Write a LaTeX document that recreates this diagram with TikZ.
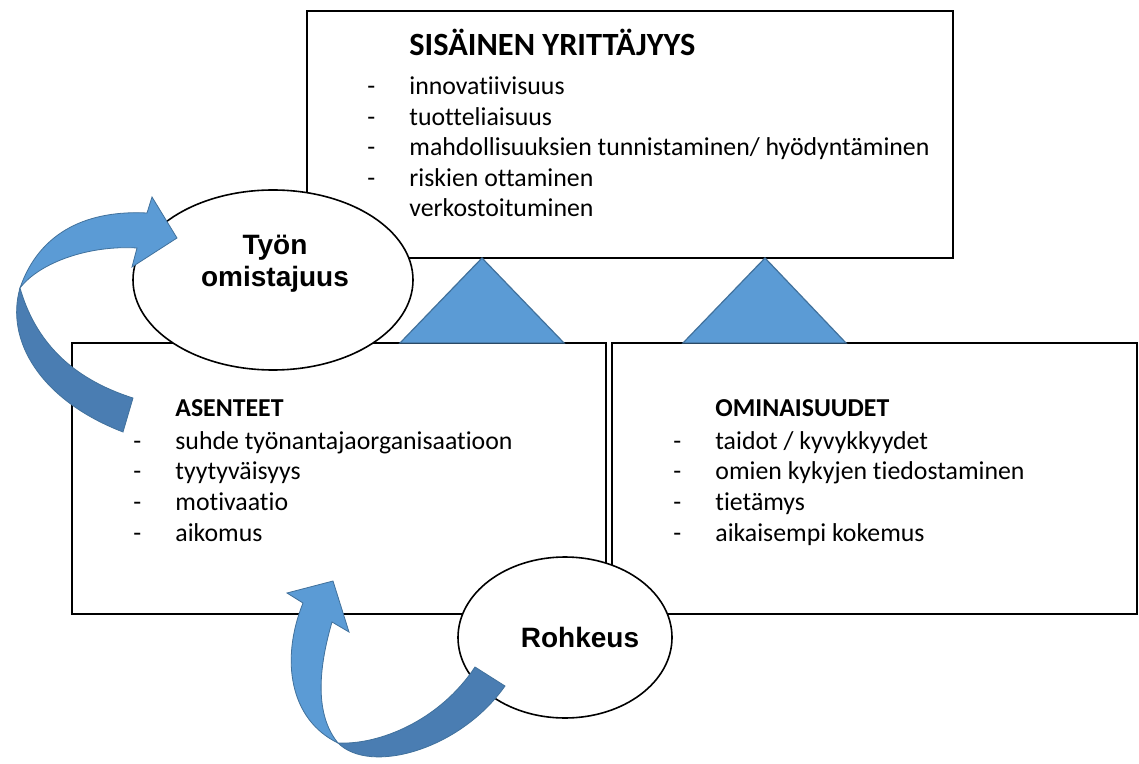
\documentclass[tikz,border=0pt]{standalone}
\usepackage{fontspec}
\setmainfont{Carlito}[Ligatures={NoCommon}, RawFeature={-liga;-clig;-dlig}]
\newfontfamily\arialfont{Liberation Sans}
\usetikzlibrary{shapes.geometric}
\definecolor{bluefill}{HTML}{5B9BD5}
\definecolor{bluedark}{HTML}{4A7DB2}
\definecolor{blueedge}{HTML}{41719C}

\begin{document}
\begin{tikzpicture}[x=0.5pt, y=-0.5pt,
    boxblock/.style={rectangle, draw=black, line width=1pt, fill=white, inner sep=0pt},
    bubble/.style={ellipse, draw=black, line width=0.8pt, fill=white, inner sep=0pt},
    bubbletext/.style={anchor=base, inner sep=0pt, font=\arialfont\bfseries\fontsize{14}{16}\selectfont},
    headtext/.style={anchor=base west, inner sep=0pt, font=\bfseries\fontsize{12.9}{15}\selectfont},
    itemtext/.style={anchor=base west, inner sep=0pt, font=\fontsize{12.9}{15}\selectfont},
    wedge/.style={fill=bluefill, draw=blueedge, line width=0.6pt},
    bandlight/.style={fill=bluefill, draw=blueedge, line width=0.4pt},
    banddark/.style={fill=bluedark, draw=blueedge, line width=0.4pt},
]
\useasboundingbox (0,0) rectangle (1139,764);

% Boxes
\node[boxblock, minimum width=323pt, minimum height=123.5pt] (sisainen) at (630,134.5) {};
\node[boxblock, minimum width=267pt, minimum height=135.5pt] (asenteet) at (339,478.5) {};
\node[boxblock, minimum width=262.5pt, minimum height=135.5pt] (ominaisuudet) at (874.5,478.5) {};

% Top box text
\node[headtext, font=\bfseries\fontsize{16.2}{18}\selectfont] (sisainenhead) at (409,56) {SISÄINEN YRITTÄJYYS};
\foreach \i/\label in {0/innovatiivisuus, 1/tuotteliaisuus, 2/{mahdollisuuksien tunnistaminen/ hyödyntäminen}, 3/riskien ottaminen, 4/verkostoituminen} {
    \node[itemtext] (sisainen\i) at (409, 95+30.5*\i) {\label};
}
\foreach \i in {0,...,3} {
    \node[itemtext] (sisainendash\i) at (367, 95+30.5*\i) {-};
}

% Left box text
\node[headtext] (asenteethead) at (175,416) {ASENTEET};
\foreach \i/\label in {0/suhde työnantajaorganisaatioon, 1/tyytyväisyys, 2/motivaatio, 3/aikomus} {
    \node[itemtext] (asenteet\i) at (175, 449+30.7*\i) {\label};
    \node[itemtext] (asenteetdash\i) at (133, 449+30.7*\i) {-};
}

% Right box text
\node[headtext] (ominaisuudethead) at (715,416) {OMINAISUUDET};
\foreach \i/\label in {0/{taidot / kyvykkyydet}, 1/omien kykyjen tiedostaminen, 2/tietämys, 3/aikaisempi kokemus} {
    \node[itemtext] (ominaisuudet\i) at (715, 449+30.7*\i) {\label};
    \node[itemtext] (ominaisuudetdash\i) at (673, 449+30.7*\i) {-};
}

% Supporting triangles
\draw[wedge] (482,258) -- (564,343) -- (400,343) -- cycle;
\draw[wedge] (765,258) -- (846,343) -- (683,343) -- cycle;

% Ellipses
\node[bubble, minimum width=140pt, minimum height=90pt] (omistajuus) at (273,280) {};
\node[bubbletext] (omistajuus1) at (275,255) {Työn};
\node[bubbletext] (omistajuus2) at (275,287) {omistajuus};
\node[bubble, minimum width=107pt, minimum height=80.5pt] (rohkeus) at (565,637.5) {};
\node[bubbletext] (rohkeus1) at (580,647) {Rohkeus};

% Curved arrow: asenteet -> tyon omistajuus
\draw[banddark] (20,288) .. controls (5,340) and (40,400) .. (123,432) -- (133,398)
    .. controls (70,378) and (35,340) .. (20,288) -- cycle;
\draw[bandlight] (20,288) .. controls (40,230) and (90,210) .. (147,213) -- (152,197) -- (177,238)
    -- (132,267) -- (137,248) .. controls (90,245) and (40,262) .. (20,288) -- cycle;

% Curved arrow: rohkeus -> asenteet
\draw[banddark] (338,743) .. controls (370,775) and (460,750) .. (505,686) -- (475,667)
    .. controls (440,720) and (380,745) .. (338,743) -- cycle;
\draw[bandlight] (338,743) .. controls (290,720) and (280,660) .. (303,603) -- (287,593) -- (333,581)
    -- (349,632) -- (332,622) .. controls (318,670) and (315,715) .. (338,743) -- cycle;

\end{tikzpicture}
\end{document}
